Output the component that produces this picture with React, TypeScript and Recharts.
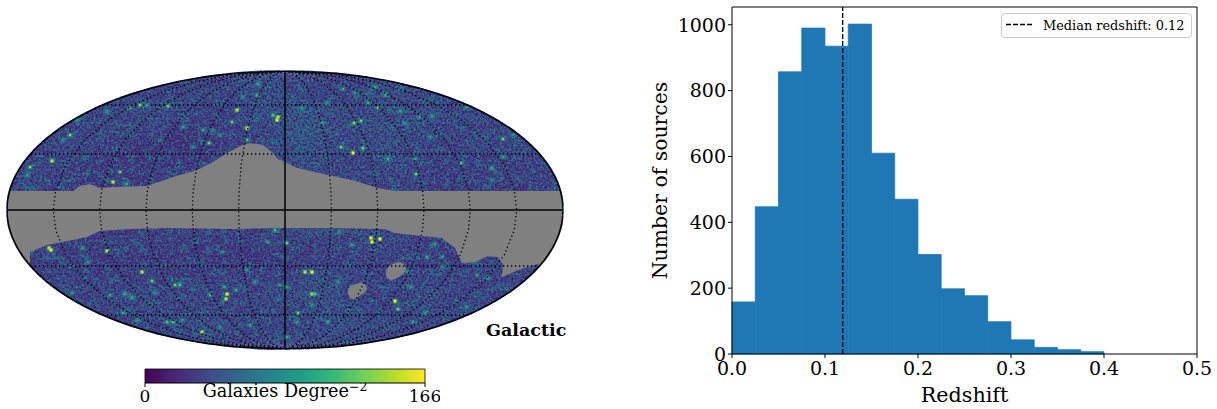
import { Area, Bar, ComposedChart, ReferenceLine, Scatter, XAxis, YAxis } from 'recharts';

// histogram
const binCenters = [0.0125, 0.0375, 0.0625, 0.0875, 0.1125, 0.1375, 0.1625, 0.1875, 0.2125, 0.2375, 0.2625, 0.2875, 0.3125, 0.3375, 0.3625, 0.3875];
const binCounts = [158, 447, 857, 990, 935, 1002, 610, 470, 302, 198, 177, 98, 43, 20, 13, 7];
const medianRedshift = 0.119;
const redshiftTicks = [0, 0.1, 0.2, 0.3, 0.4, 0.5];
const countTicks = [0, 200, 400, 600, 800, 1000];

// sky map, everything below is in projected map units (centre of the ellipse = 0,0)
const maskTopX = [-278, -212, -205, -195, -185, -172, -138, -112, -88, -72, -58, -45, -35, -22, -12, -7, 0, 10, 20, 43, 67, 93, 110, 278];
const maskTopY = [19, 19, 24, 26, 22, 23, 24, 33, 40, 48, 57, 64, 67, 65, 57, 51, 48, 43, 40, 35, 30, 22, 19, 19];
const maskBottomX = [-278, -255.5, -255, -238, -218, -198, -185, -158, -118, -52, -8, 43, 100, 110, 137, 157, 170, 177, 190, 203, 213, 218, 217, 233, 253, 256, 278];
const maskBottomY = [-139, -139, -42, -35, -31, -27, -21, -19, -18, -19, -18, -18, -19, -23, -26, -28, -38, -53, -52, -46, -47, -55, -67, -60, -54, -139, -139];
const lmcX = [101, 103, 106, 110, 114, 118, 121];
const lmcLow = [-66, -69, -70, -69, -67, -64, -60];
const lmcHigh = [-62, -57, -55, -53, -52, -53, -58];
const smcX = [63, 65, 68, 72, 76, 80, 82];
const smcLow = [-84, -88, -89, -88, -85, -82, -79];
const smcHigh = [-80, -76, -75, -74, -72, -74, -78];

const latitudes = [105, 56, -56, -105];
const meridianEquatorX = [-231.7, -185.3, -139, -92.7, -46.3, 46.3, 92.7, 139, 185.3, 231.7];
const meridianHeights = [-139, -135, -128, -118, -105, -90, -70, -45, -20, 0, 20, 45, 70, 90, 105, 118, 128, 135, 139];

// rough density of the sky, one digit per patch (relative level, 2 = sparse, 7 = dense)
const patchRowY = [132, 116, 100, 84, 68, 52, 36, 20, -20, -36, -52, -68, -84, -100, -116, -132];
const patchRows = [
  '44444444444444555554444555444444444',
  '44444444444554556554455655544444444',
  '44444454565543456665555555655544444',
  '44444555454433455677555666555545444',
  '44455444332233445676554654544554544',
  '44444433233334445566444765444444454',
  '55454333344344445555454454434444444',
  '45433334434344344444434444333443344',
  '33333333344434434455644543433333333',
  '33443344433333334443445544334444444',
  '33444333333443323334444444434544433',
  '33444444343344444346554444544445433',
  '44454445544544445566544444654444444',
  '44444445554454444546565445545554444',
  '44444444445565445445565554544544444',
  '44444444444455444555555444444444444',
];
const hotX = [-8, -7, -12, -48, -53, -38, -27, -28, -42, -82, -102, -76, -117, -145, -155, -138, -215, -233, -255, -258, -165, -172, -158, -208, -178, -222, -38, -92, -72, -65,
  68, 56, 78, 69, 76, 37, 83, 93, 115, 147, 135, 182, 218, 228, 103, 130, 131, 176, 207, 218, 120, 90, 58, 70, 100, 17, 42, 145, 207,
  -236, -234, -178, -202, -143, -133, -110, -105, -58, -59, -61, -75, -49, -160, -153, -175, -162, -118, -112, -83, -35, -30, -17, -10, 2, 2, -197, -213, -103, -130, -65, -5, -63, -148, -38,
  86, 87, 95, 20, 27, 27, 30, 110, 113, 142, 157, 150, 192, 67, 54, 13, 12, 27, 43, 128, 182, 126, 157, 122, 2, 53, 203, 140];
const hotY = [90, 93, 95, 100, 88, 82, 126, 115, 113, 80, 83, 67, 104, 105, 102, 105, 75, 49, 43, 35, 38, 28, 26, 90, 98, 70, 70, 63, 80, 75,
  57, 63, 62, 87, 89, 87, 107, 102, 99, 94, 93, 103, 71, 75, 51, 51, 36, 47, 42, 53, 87, 123, 121, 117, 115, 102, 107, 73, 30,
  -38, -40, -41, -38, -62, -71, -75, -75, -84, -89, -77, -85, -80, -84, -88, -85, -103, -112, -112, -122, -115, -72, -32, -20, -33, -127, -52, -83, -110, -83, -117, -75, -42, -110, -60,
  -28, -32, -29, -62, -62, -84, -84, -91, -99, -47, -47, -34, -65, -35, -22, -103, -112, -95, -112, -112, -97, -77, -57, -62, -77, -72, -68, -103];
const hotValue = [166, 150, 120, 150, 130, 150, 110, 110, 90, 110, 100, 130, 130, 140, 110, 110, 140, 150, 140, 100, 130, 150, 110, 100, 90, 90, 120, 90, 90, 90,
  166, 130, 130, 140, 130, 100, 110, 130, 110, 100, 100, 90, 130, 90, 110, 100, 130, 120, 110, 100, 90, 110, 110, 90, 100, 100, 90, 90, 90,
  166, 166, 150, 100, 150, 130, 130, 120, 166, 150, 110, 110, 110, 110, 110, 110, 110, 120, 120, 150, 110, 100, 110, 120, 130, 110, 90, 90, 100, 90, 90, 100, 90, 90, 90,
  166, 166, 166, 150, 166, 150, 120, 166, 130, 110, 100, 100, 110, 100, 100, 130, 100, 100, 110, 100, 100, 100, 90, 100, 100, 90, 90, 90];

const colorbarEnds = [0, 166];
const viridis = ['#440154', '#482878', '#3e4989', '#31688e', '#26828e', '#1f9e89', '#35b779', '#6ece58', '#b5de2b', '#fde725'];

const toColor = (value: number) => {
  const t = Math.min(Math.max(value / 166, 0), 1) * (viridis.length - 1);
  const i = Math.min(Math.floor(t), viridis.length - 2);
  const mix = (k: number) => {
    const a = parseInt(viridis[i].slice(k, k + 2), 16);
    const b = parseInt(viridis[i + 1].slice(k, k + 2), 16);
    return Math.round(a + (b - a) * (t - i));
  };
  return `rgb(${mix(1)},${mix(3)},${mix(5)})`;
};

const histogram = binCenters.map((center, i) => ({ center, count: binCounts[i] }));
const patches = patchRows.flatMap((row, r) => row.split('').map((digit, c) => ({ x: -272 + c * 16, y: patchRowY[r], v: 8 + Number(digit) * 7 })));
const hotSpots = hotX.map((x, i) => ({ x, y: hotY[i], v: hotValue[i] }));
const zip = (xs: number[], ys: number[]) => xs.map((x, i) => ({ x, y: ys[i] }));
const blob = (xs: number[], lo: number[], hi: number[]) => xs.map((x, i) => ({ x, band: [lo[i], hi[i]] }));

// mollweide graticule: a meridian is a half ellipse through the poles
const meridian = (x0: number) => meridianHeights.map((y) => ({ x: x0 * Math.sqrt(1 - (y / 139) ** 2), y }));
const outline = (side: number) => Array.from({ length: 121 }, (_, i) => {
  const y = -139 + (i * 278) / 120;
  return { x: side * 278 * Math.sqrt(Math.max(0, 1 - (y / 139) ** 2)), y };
});

const noDot = () => <g />;
const MAP_W = 560;
const MAP_H = 282;
const mapMargin = { top: 2, right: 2, bottom: 2, left: 2 };
const GREY = '#808080';
const SERIF = '"DejaVu Serif", serif';

const PatchShape = (props: any) => (
  <rect x={props.cx - 8.5} y={props.cy - 8.5} width={17} height={17} fill={toColor(props.payload.v)} />
);

const HotShape = (props: any) => {
  const s = props.payload.v > 140 ? 3 : props.payload.v > 115 ? 2.4 : 1.9;
  const { cx, cy } = props;
  return (
    <g>
      <rect x={cx - 4} y={cy - 3} width={8} height={6} fill="#1f9e89" fillOpacity={0.16} />
      <rect x={cx - 2.5} y={cy - 2} width={5} height={4} fill="#26a88a" fillOpacity={0.35} />
      <rect x={cx - s / 2} y={cy - s / 2} width={s} height={s} fill={toColor(props.payload.v)} />
    </g>
  );
};

const MapAxes = () => (
  <>
    <XAxis type="number" dataKey="x" domain={[-278, 278]} hide allowDataOverflow />
    <YAxis type="number" dataKey="y" domain={[-139, 139]} hide allowDataOverflow />
  </>
);

const SkyMap = () => (
  <div style={{ position: 'absolute', left: 5, top: 69, width: MAP_W, height: MAP_H, clipPath: 'ellipse(279px 140px at 280px 141px)' }}>
    <div style={{ position: 'absolute', inset: 0, background: '#453a84', filter: 'blur(6px)' }}>
      <ComposedChart width={MAP_W} height={MAP_H} margin={mapMargin}>
        {MapAxes()}
        <Scatter data={patches} shape={PatchShape} isAnimationActive={false} />
      </ComposedChart>
    </div>
    {/* pixel grain of the healpix map, only a texture on top of the patches */}
    <svg width={MAP_W} height={MAP_H} style={{ position: 'absolute', left: 0, top: 0 }}>
      <filter id="grain" x="0" y="0" width="100%" height="100%" colorInterpolationFilters="sRGB">
        <feTurbulence type="fractalNoise" baseFrequency="0.45" numOctaves={2} seed={7} result="n" />
        <feTurbulence type="fractalNoise" baseFrequency="0.13" numOctaves={3} seed={21} result="m" />
        <feColorMatrix in="n" type="matrix" values="0 0 0 0 .27  0 0 0 0 .1  0 0 0 0 .44  3.2 0 0 0 -1.25" result="dark" />
        <feColorMatrix in="m" type="matrix" values="0 0 0 0 .15  0 0 0 0 .48  0 0 0 0 .55  0 4 0 0 -2" result="clump" />
        <feColorMatrix in="n" type="matrix" values="0 0 0 0 .14  0 0 0 0 .5  0 0 0 0 .55  0 3 0 0 -1.5" result="teal" />
        <feMerge>
          <feMergeNode in="clump" />
          <feMergeNode in="dark" />
          <feMergeNode in="teal" />
        </feMerge>
      </filter>
      <rect width={MAP_W} height={MAP_H} filter="url(#grain)" />
    </svg>
    <div style={{ position: 'absolute', inset: 0 }}>
      <ComposedChart width={MAP_W} height={MAP_H} margin={mapMargin}>
        {MapAxes()}
        <Scatter data={hotSpots} shape={HotShape} isAnimationActive={false} />
        <Area data={zip(maskTopX, maskTopY)} dataKey="y" baseValue={0} type="linear" fill={GREY} fillOpacity={1} stroke="none" dot={false} isAnimationActive={false} />
        <Area data={zip(maskBottomX, maskBottomY)} dataKey="y" baseValue={0} type="linear" fill={GREY} fillOpacity={1} stroke="none" dot={false} isAnimationActive={false} />
        <Area data={blob(lmcX, lmcLow, lmcHigh)} dataKey="band" type="linear" fill={GREY} fillOpacity={1} stroke="none" dot={false} isAnimationActive={false} />
        <Area data={blob(smcX, smcLow, smcHigh)} dataKey="band" type="linear" fill={GREY} fillOpacity={1} stroke="none" dot={false} isAnimationActive={false} />
        {latitudes.map((y) => (
          <ReferenceLine key={y} y={y} stroke="#000" strokeWidth={1.3} strokeDasharray="1.3 2.7" />
        ))}
        {meridianEquatorX.map((x0) => (
          <Scatter key={x0} data={meridian(x0)} shape={noDot} line={{ stroke: '#000', strokeWidth: 1.3, strokeDasharray: '1.3 2.7' }} lineType="joint" isAnimationActive={false} />
        ))}
        <ReferenceLine x={0} stroke="#000" strokeWidth={1.5} />
        <ReferenceLine y={0} stroke="#000" strokeWidth={1.5} />
        <Scatter data={outline(1)} shape={noDot} line={{ stroke: '#000', strokeWidth: 1.6 }} lineType="joint" isAnimationActive={false} />
        <Scatter data={outline(-1)} shape={noDot} line={{ stroke: '#000', strokeWidth: 1.6 }} lineType="joint" isAnimationActive={false} />
      </ComposedChart>
    </div>
  </div>
);

const ColorBar = () => (
  <div style={{ position: 'absolute', left: 130, top: 360 }}>
    <ComposedChart width={310} height={49} data={colorbarEnds.map((x) => ({ x, full: 1 }))} margin={{ top: 9, right: 15, bottom: 0, left: 15 }}>
      <defs>
        <linearGradient id="viridisBar" x1="0" y1="0" x2="1" y2="0">
          {viridis.map((color, i) => (
            <stop key={color} offset={i / (viridis.length - 1)} stopColor={color} />
          ))}
        </linearGradient>
      </defs>
      <XAxis
        type="number"
        dataKey="x"
        domain={[0, 166]}
        ticks={colorbarEnds}
        height={26}
        tickSize={4}
        tickMargin={3}
        interval={0}
        stroke="#000"
        tick={{ fontFamily: SERIF, fontSize: 17, fill: '#000' }}
      />
      <YAxis type="number" domain={[0, 1]} hide />
      <Area dataKey="full" baseValue={0} type="linear" fill="url(#viridisBar)" fillOpacity={1} stroke="#000" strokeWidth={0.8} dot={false} isAnimationActive={false} />
      <ReferenceLine x={0} stroke="#000" strokeWidth={0.8} />
      <ReferenceLine x={166} stroke="#000" strokeWidth={0.8} />
      <text x={155} y={37} textAnchor="middle" fontFamily={SERIF} fontSize={17.6} fill="#000">
        Galaxies Degree
        <tspan dy={-6} fontSize={12.5}>−2</tspan>
      </text>
    </ComposedChart>
  </div>
);

const Histogram = () => (
  <div style={{ position: 'absolute', left: 640, top: 0 }}>
    <ComposedChart width={577} height={409} data={histogram} margin={{ top: 7, right: 20, bottom: 0, left: 0 }}>
      <XAxis
        type="number"
        dataKey="center"
        domain={[0, 0.5]}
        ticks={redshiftTicks}
        tickFormatter={(v: number) => v.toFixed(1)}
        height={55}
        interval={0}
        tickSize={4}
        tickMargin={4}
        stroke="#000"
        tick={{ fontFamily: SERIF, fontSize: 19, fill: '#000' }}
        label={{ value: 'Redshift', position: 'insideBottom', offset: 7, fontFamily: SERIF, fontSize: 20.7, fill: '#000' }}
      />
      <YAxis
        type="number"
        domain={[0, 1054]}
        ticks={countTicks}
        width={92}
        interval={0}
        tickSize={4}
        stroke="#000"
        tick={{ fontFamily: SERIF, fontSize: 19, fill: '#000' }}
        label={{ value: 'Number of sources', angle: -90, position: 'insideLeft', offset: 20, fontFamily: SERIF, fontSize: 20.4, fill: '#000', style: { textAnchor: 'middle' } }}
      />
      <Bar dataKey="count" fill="#1f77b4" stroke="#1f77b4" strokeWidth={0.8} barSize={23.2} isAnimationActive={false} />
      <ReferenceLine x={0.5} stroke="#000" />
      <ReferenceLine y={1054} stroke="#000" />
      <ReferenceLine x={medianRedshift} stroke="#000" strokeWidth={1.3} strokeDasharray="5 2" />
      <g>
        <rect x={361.5} y={13.5} width={190} height={24} rx={3} fill="#fff" fillOpacity={0.8} stroke="#ccc" />
        <line x1={366} x2={393} y1={24.5} y2={24.5} stroke="#000" strokeWidth={1.3} strokeDasharray="5 2" />
        <text x={403} y={30} fontFamily={SERIF} fontSize={12.9} fill="#000">Median redshift: 0.12</text>
      </g>
    </ComposedChart>
  </div>
);

export default function App() {
  return (
    <div style={{ position: 'absolute', left: 0, top: 0, width: 1217, height: 409, background: '#fff', overflow: 'hidden' }}>
      <SkyMap />
      <div style={{ position: 'absolute', left: 486, top: 320, fontFamily: SERIF, fontWeight: 700, fontSize: 17.5, lineHeight: '21px' }}>Galactic</div>
      <ColorBar />
      <Histogram />
    </div>
  );
}
